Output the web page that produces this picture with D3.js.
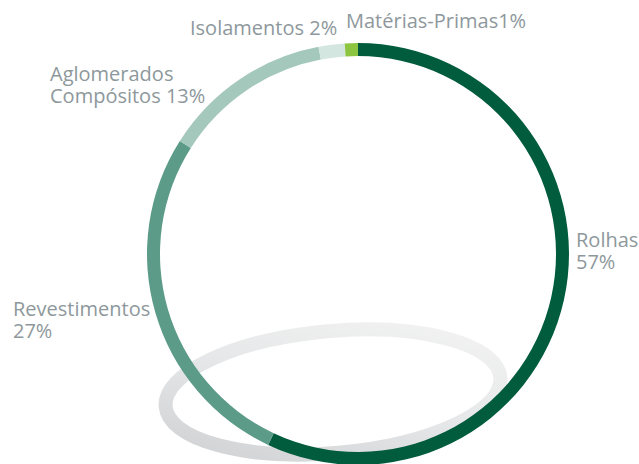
<!DOCTYPE html>
<html>
<head>
  <meta charset="utf-8">
  <script src="https://d3js.org/d3.v7.min.js"></script>
  <style>
    body { margin: 0; background: #fff; }
    .label { font-family: "Open Sans", sans-serif; font-size: 20px; fill: #8e989c; }
  </style>
</head>
<body>
<svg width="639" height="464">
  <defs>
    <linearGradient id="shade" x1="1" y1="0" x2="0" y2="1">
      <stop offset="0" stop-color="#f4f4f4"/>
      <stop offset="0.5" stop-color="#e6e7e8"/>
      <stop offset="1" stop-color="#cdcfd0"/>
    </linearGradient>
  </defs>
  <g id="shadow"/>
  <g id="ring"/>
  <g id="labels"/>
</svg>
<script>
  // share of sales by product family
  let categories = ["Rolhas", "Revestimentos", "Aglomerados Compósitos", "Isolamentos", "Matérias-Primas"],
    values = [57, 27, 13, 2, 1],
    colors = ["#015b3d", "#5b9b88", "#a4c8bb", "#d4e6e0", "#8dc540"],
    label_lines = [["Rolhas", "57%"], ["Revestimentos", "27%"], ["Aglomerados", "Compósitos 13%"], ["Isolamentos 2%"], ["Matérias-Primas1%"]];

  let width = 639, height = 464,
    center = { x: 358, y: 254 },
    radius = { outer: 211, inner: 198 },
    label_pos = [[576, 247], [13, 316], [50, 81], [190, 35], [346, 28]],
    line_height = 22;

  let svg = d3.select("svg");

  // grey ring lying underneath
  svg.select("#shadow")
    .append("ellipse")
    .attr("transform", "translate(333, 392) rotate(-5)")
    .attr("rx", 168)
    .attr("ry", 61)
    .attr("fill", "none")
    .attr("stroke", "url(#shade)")
    .attr("stroke-width", 14);

  let pie = d3.pie().sort(null).value(d => d.value);
  let arc = d3.arc().innerRadius(radius.inner).outerRadius(radius.outer);
  let data = categories.map((c, i) => ({ name: c, value: values[i], color: colors[i] }));

  svg.select("#ring")
    .attr("transform", `translate(${center.x}, ${center.y})`)
    .selectAll("path")
    .data(pie(data)).enter()
    .append("path")
    .attr("d", arc)
    .attr("fill", d => d.data.color);

  let labels = svg.select("#labels")
    .selectAll("text")
    .data(label_lines).enter()
    .append("text")
    .attr("class", "label")
    .attr("x", (d, i) => label_pos[i][0])
    .attr("y", (d, i) => label_pos[i][1]);

  labels.selectAll("tspan")
    .data(d => d).enter()
    .append("tspan")
    .attr("x", function () { return this.parentNode.getAttribute("x"); })
    .attr("dy", (d, i) => i == 0 ? 0 : line_height)
    .text(d => d);
</script>
</body>
</html>
